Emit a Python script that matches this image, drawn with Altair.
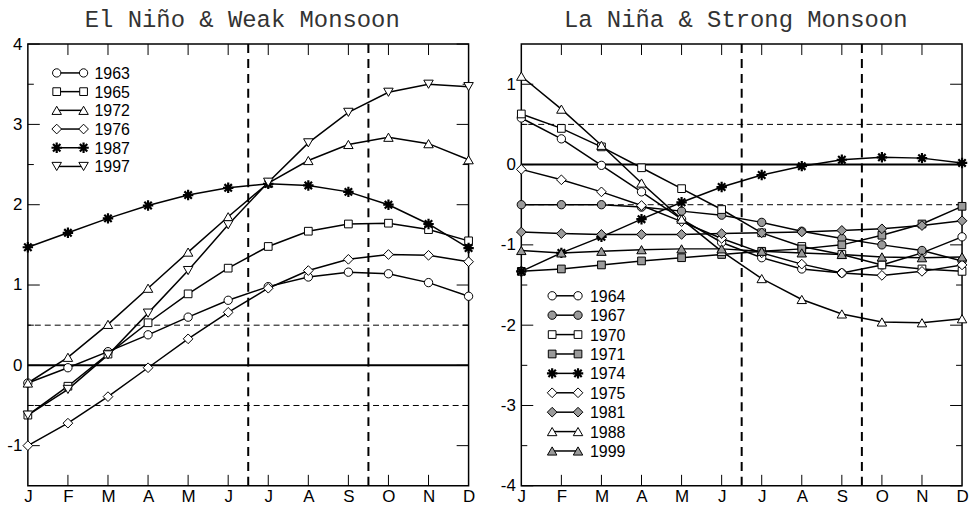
import json

import altair as alt
import pandas as pd

MONTHS = ["J", "F", "M", "A", "M", "J", "J", "A", "S", "O", "N", "D"]

# Monthly index values, El Niño & weak monsoon years
EN_YEARS = ["1963", "1965", "1972", "1976", "1987", "1997"]
EN_1963 = [-0.22, -0.03, 0.17, 0.38, 0.60, 0.81, 0.98, 1.10, 1.16, 1.14, 1.03, 0.86]
EN_1965 = [-0.62, -0.26, 0.14, 0.53, 0.89, 1.21, 1.48, 1.67, 1.76, 1.77, 1.69, 1.55]
EN_1972 = [-0.22, 0.10, 0.51, 0.96, 1.41, 1.85, 2.27, 2.55, 2.75, 2.84, 2.76, 2.56]
EN_1976 = [-1.00, -0.72, -0.39, -0.03, 0.33, 0.66, 0.96, 1.18, 1.32, 1.38, 1.37, 1.29]
EN_1987 = [1.47, 1.65, 1.83, 1.99, 2.12, 2.21, 2.26, 2.24, 2.16, 2.00, 1.76, 1.46]
EN_1997 = [-0.62, -0.30, 0.13, 0.65, 1.18, 1.75, 2.28, 2.77, 3.15, 3.40, 3.50, 3.47]

# Monthly index values, La Niña & strong monsoon years
LN_YEARS = ["1964", "1967", "1970", "1971", "1974", "1975", "1981", "1988", "1999"]
LN_1964 = [0.58, 0.32, -0.01, -0.34, -0.68, -0.97, -1.16, -1.30, -1.35, -1.25, -1.10, -0.90]
LN_1967 = [-0.50, -0.50, -0.50, -0.53, -0.58, -0.63, -0.72, -0.83, -0.92, -1.00, -1.07, -1.20]
LN_1970 = [0.63, 0.45, 0.22, -0.04, -0.30, -0.56, -0.85, -1.02, -1.12, -1.25, -1.30, -1.33]
LN_1971 = [-1.33, -1.30, -1.25, -1.20, -1.16, -1.12, -1.08, -1.05, -1.00, -0.88, -0.74, -0.52]
LN_1974 = [-1.33, -1.10, -0.90, -0.68, -0.47, -0.28, -0.13, -0.02, 0.06, 0.09, 0.08, 0.02]
LN_1975 = [-0.06, -0.19, -0.34, -0.51, -0.71, -0.92, -1.10, -1.24, -1.35, -1.38, -1.33, -1.25]
LN_1981 = [-0.84, -0.86, -0.87, -0.87, -0.87, -0.86, -0.85, -0.84, -0.82, -0.80, -0.76, -0.70]
LN_1988 = [1.10, 0.69, 0.24, -0.23, -0.68, -1.08, -1.42, -1.68, -1.86, -1.96, -1.97, -1.92]
LN_1999 = [-1.07, -1.10, -1.08, -1.06, -1.05, -1.05, -1.08, -1.10, -1.12, -1.15, -1.16, -1.15]

# Season boundaries (between months) and reference levels
SEASON_BOUNDS = [5.5, 8.5]
ZERO_LEVEL = [0.0]
THRESHOLDS = [-0.5, 0.5]

EN_MAJOR = [-1, 0, 1, 2, 3, 4]
EN_MINOR = [-0.5, 0.5, 1.5, 2.5, 3.5]
LN_MAJOR = [-4, -3, -2, -1, 0, 1]
LN_MINOR = [-3.5, -2.5, -1.5, -0.5, 0.5]
INNER_MONTHS = list(range(1, 11))

# eight-spoke asterisk drawn as a stroked symbol path
ASTERISK = "M-1,0L1,0M0,-1L0,1M-0.71,-0.71L0.71,0.71M-0.71,0.71L0.71,-0.71"

WHITE, GREY, BLACK = "white", "#9a9a9a", "black"
EN_SHAPES = ["circle", "square", "triangle-up", "diamond", ASTERISK, "triangle-down"]
EN_FILLS = [WHITE, WHITE, WHITE, WHITE, BLACK, WHITE]
EN_SIZES = [70, 60, 90, 95, 110, 90]
EN_WIDTHS = [1, 1, 1, 1, 2.2, 1]
LN_SHAPES = ["circle", "circle", "square", "square", ASTERISK, "diamond", "diamond",
             "triangle-up", "triangle-up"]
LN_FILLS = [WHITE, GREY, WHITE, GREY, BLACK, WHITE, GREY, WHITE, GREY]
LN_SIZES = [70, 70, 60, 60, 110, 95, 95, 90, 90]
LN_WIDTHS = [1, 1, 1, 1, 2.2, 1, 1, 1, 1]

LABEL_FONT = "Liberation Sans"
TITLE_FONT = "Liberation Mono"
MONTH_EXPR = json.dumps(MONTHS) + "[datum.value]"


def long_table(years, series):
    rows = []
    for year, values in zip(years, series):
        for m, v in enumerate(values):
            rows.append({"year": year, "m": m, "v": v})
    return pd.DataFrame(rows)


def lookup_expr(years, values):
    """Vega expression returning the per-year style value."""
    return json.dumps(dict(zip(years, values))) + "[datum.year]"


def panel(years, series, shapes, fills, sizes, widths, y_dom, majors, minors,
          title, title_dx, width, height, leg_rows, leg_x):
    df = long_table(years, series)

    x_enc = alt.X("m:Q", scale=alt.Scale(domain=[0, 11], nice=False, zero=False),
                  axis=alt.Axis(values=list(range(12)), labelExpr=MONTH_EXPR, ticks=False,
                                domain=False, grid=False, title=None, labelFontSize=17,
                                labelPadding=3, labelFlush=False, labelColor="black",
                                labelFont=LABEL_FONT))
    y_enc = alt.Y("v:Q", scale=alt.Scale(domain=y_dom, nice=False, zero=False),
                  axis=alt.Axis(values=majors, labelExpr="datum.value + ''", ticks=False,
                                domain=False, grid=False, title=None, labelFontSize=17,
                                labelPadding=6, labelFlush=False, labelColor="black",
                                labelFont=LABEL_FONT))

    shape_enc = alt.Shape("year:N", scale=alt.Scale(domain=years, range=shapes), legend=None)
    fill_enc = alt.Fill("year:N", scale=alt.Scale(domain=years, range=fills), legend=None)
    size_enc = alt.Size("sz:Q", scale=None, legend=None)
    sw_enc = alt.StrokeWidth("sw:Q", scale=None, legend=None)
    size_expr = lookup_expr(years, sizes)
    width_expr = lookup_expr(years, widths)

    def markers(chart):
        return chart.transform_calculate(sz=size_expr, sw=width_expr).mark_point(
            filled=True, stroke="black", opacity=1, fillOpacity=1, strokeJoin="round")

    lines = alt.Chart(df).mark_line(color="black", strokeWidth=1.5).encode(
        x=x_enc, y=y_enc, detail="year:N")
    points = markers(alt.Chart(df)).encode(
        x=x_enc, y=y_enc, shape=shape_enc, fill=fill_enc, size=size_enc, strokeWidth=sw_enc)

    zero = alt.Chart(pd.DataFrame({"v": ZERO_LEVEL})).mark_rule(
        color="black", strokeWidth=2).encode(y="v:Q")
    thresh = alt.Chart(pd.DataFrame({"v": THRESHOLDS})).mark_rule(
        color="black", strokeWidth=1, strokeDash=[6, 4]).encode(y="v:Q")
    seasons = alt.Chart(pd.DataFrame({"m": SEASON_BOUNDS})).mark_rule(
        color="black", strokeWidth=2, strokeDash=[9, 6]).encode(x="m:Q")

    major_df = pd.DataFrame({"v": majors})
    minor_df = pd.DataFrame({"v": minors})
    month_df = pd.DataFrame({"m": INNER_MONTHS})
    tick = dict(color="black", strokeWidth=1)
    ticks = [
        alt.Chart(major_df).mark_rule(**tick).encode(
            y="v:Q", x=alt.value(0), x2=alt.value(12)),
        alt.Chart(major_df).mark_rule(**tick).encode(
            y="v:Q", x=alt.value(width), x2=alt.value(width - 12)),
        alt.Chart(minor_df).mark_rule(**tick).encode(
            y="v:Q", x=alt.value(0), x2=alt.value(6)),
        alt.Chart(minor_df).mark_rule(**tick).encode(
            y="v:Q", x=alt.value(width), x2=alt.value(width - 6)),
        alt.Chart(month_df).mark_rule(**tick).encode(
            x="m:Q", y=alt.value(0), y2=alt.value(11)),
        alt.Chart(month_df).mark_rule(**tick).encode(
            x="m:Q", y=alt.value(height), y2=alt.value(height - 11)),
    ]

    heading = alt.Chart(pd.DataFrame({"t": [title]})).mark_text(
        font=TITLE_FONT, fontSize=24, color="#333333", align="center",
        baseline="alphabetic").encode(
        text="t:N", x=alt.value(width / 2 + title_dx), y=alt.value(-17))

    main = alt.layer(zero, thresh, seasons, *ticks, lines, points, heading)

    # in-plot key: marker, line, marker, year
    key_df = pd.DataFrame({"year": years, "row": list(range(len(years)))})
    row_enc = alt.Y("row:Q", scale=alt.Scale(domain=[0, len(years) - 1], range=leg_rows),
                    axis=None)
    x0, x1, xt = leg_x
    key_line = alt.Chart(key_df).mark_rule(color="black", strokeWidth=1.5).encode(
        y=row_enc, x=alt.value(x0), x2=alt.value(x1))
    key_marks = [
        markers(alt.Chart(key_df)).encode(
            y=row_enc, x=alt.value(xp), shape=shape_enc, fill=fill_enc, size=size_enc,
            strokeWidth=sw_enc)
        for xp in (x0, x1)
    ]
    key_text = alt.Chart(key_df).mark_text(
        align="left", baseline="middle", font=LABEL_FONT, fontSize=16, color="black",
        dy=1).encode(y=row_enc, x=alt.value(xt), text="year:N")
    key = alt.layer(key_line, *key_marks, key_text)

    return alt.layer(main, key).resolve_scale(y="independent").properties(
        width=width, height=height)


left = panel(EN_YEARS, [EN_1963, EN_1965, EN_1972, EN_1976, EN_1987, EN_1997],
             EN_SHAPES, EN_FILLS, EN_SIZES, EN_WIDTHS, [-1.5, 4], EN_MAJOR, EN_MINOR,
             "El Niño & Weak Monsoon", -6, 443, 444, [29, 123], (29, 56, 67))
right = panel(LN_YEARS, [LN_1964, LN_1967, LN_1970, LN_1971, LN_1974, LN_1975, LN_1981,
                         LN_1988, LN_1999],
              LN_SHAPES, LN_FILLS, LN_SIZES, LN_WIDTHS, [-4, 1.5], LN_MAJOR, LN_MINOR,
              "La Niña & Strong Monsoon", -6, 443, 444, [253, 409], (31, 57, 69))

chart = alt.hconcat(left, right, spacing=23).resolve_scale(
    shape="independent", fill="independent",
).properties(
    padding={"left": 6, "top": 6, "right": 0, "bottom": 0},
    background="white",
).configure_view(stroke="black", strokeWidth=1.5)

chart.save("out.html", embed_options={"renderer": "svg", "actions": False})
